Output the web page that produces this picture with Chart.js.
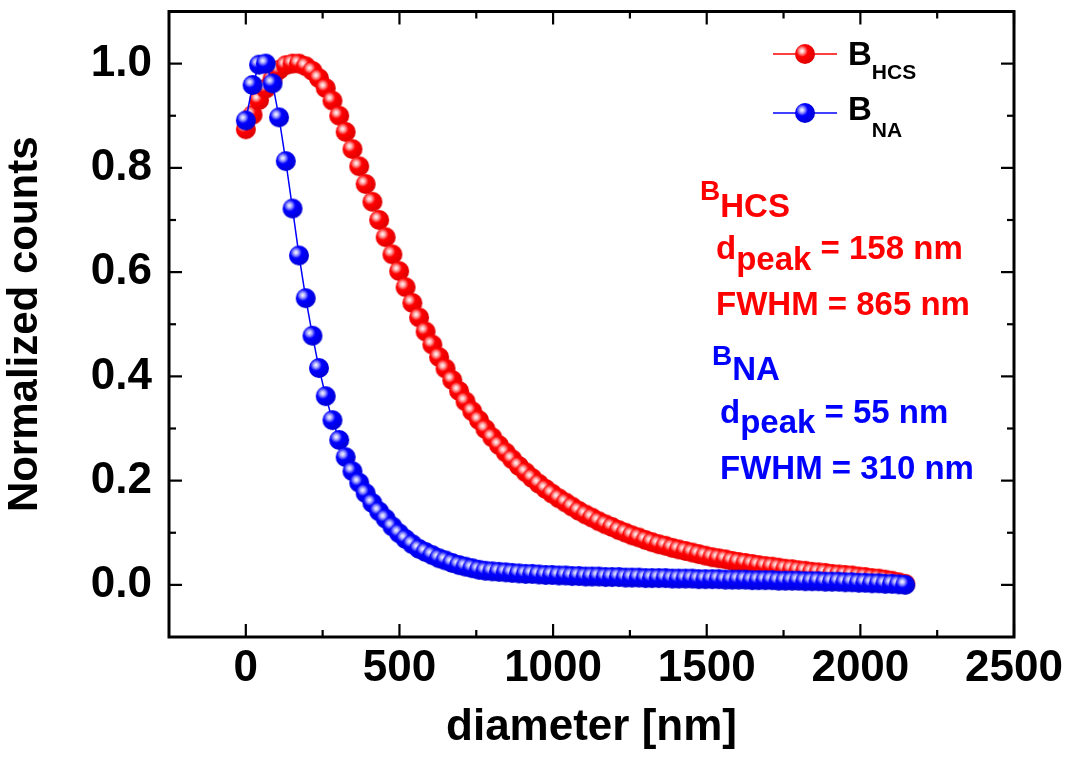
<!DOCTYPE html>
<html><head><meta charset="utf-8">
<script src="https://cdn.jsdelivr.net/npm/chart.js@4.4.1/dist/chart.umd.min.js"></script>
<style>
html,body{margin:0;padding:0;background:#fff;}
#wrap{position:relative;width:1074px;height:760px;overflow:hidden;background:#fff;}
#c{position:absolute;left:0;top:0;}
.t{position:absolute;font-family:"Liberation Sans",Arial,sans-serif;font-weight:bold;line-height:1;white-space:nowrap;}
.red{color:#ff0000}.blue{color:#0000ff}.blk{color:#000}
.s{position:relative;}
</style></head><body>
<div id="wrap">
<canvas id="c" width="1074" height="760"></canvas>
<div class="t blk" style="left:848px;top:37px;font-size:33px;">B<span class="s" style="font-size:21px;top:14px;">HCS</span></div>
<div class="t blk" style="left:848px;top:92px;font-size:33px;">B<span class="s" style="font-size:21px;top:17px;">NA</span></div>
<div class="t red" style="left:700px;top:189px;font-size:33px;"><span class="s" style="font-size:28px;top:-17px;">B</span>HCS</div>
<div class="t red" style="left:716px;top:231px;font-size:33px;">d<span class="s" style="top:11px;">peak</span> = 158 nm</div>
<div class="t red" style="left:716px;top:287px;font-size:33px;">FWHM = 865 nm</div>
<div class="t blue" style="left:712px;top:352px;font-size:33px;"><span class="s" style="font-size:28px;top:-15px;">B</span>NA</div>
<div class="t blue" style="left:720px;top:395px;font-size:33px;">d<span class="s" style="top:10px;">peak</span> = 55 nm</div>
<div class="t blue" style="left:720px;top:451px;font-size:33px;">FWHM = 310 nm</div>
</div>
<script>
// ---- data ----
const diameters = [
  0,22,43,65,87,108,130,152,173,195,
  217,238,260,282,304,325,347,369,390,412,
  434,455,477,499,520,542,564,585,607,629,
  650,672,694,715,737,759,780,802,824,846,
  867,889,911,932,954,976,997,1019,1041,1062,
  1084,1106,1127,1149,1171,1192,1214,1236,1257,1279,
  1301,1322,1344,1366,1388,1409,1431,1453,1474,1496,
  1518,1539,1561,1583,1604,1626,1648,1669,1691,1713,
  1734,1756,1778,1799,1821,1843,1864,1886,1908,1930,
  1951,1973,1995,2016,2038,2060,2081,2103,2125,2146];
const bHCS = [
  0.874,0.902,0.930,0.952,0.971,0.988,0.997,1.000,1.000,0.995,
  0.986,0.972,0.953,0.929,0.900,0.869,0.836,0.803,0.769,0.735,
  0.700,0.667,0.634,0.602,0.571,0.541,0.513,0.486,0.461,0.437,
  0.415,0.393,0.372,0.352,0.333,0.316,0.299,0.283,0.268,0.254,
  0.241,0.228,0.216,0.205,0.194,0.184,0.175,0.166,0.158,0.150,
  0.142,0.135,0.129,0.122,0.116,0.111,0.105,0.100,0.095,0.091,
  0.086,0.082,0.078,0.075,0.071,0.068,0.065,0.062,0.059,0.056,
  0.053,0.051,0.049,0.046,0.044,0.042,0.040,0.038,0.036,0.035,
  0.033,0.031,0.030,0.028,0.027,0.025,0.024,0.023,0.021,0.020,
  0.019,0.018,0.016,0.015,0.013,0.012,0.010,0.008,0.005,0.002];
const bNA = [
  0.891,0.959,0.998,1.000,0.962,0.897,0.813,0.722,0.632,0.550,
  0.478,0.416,0.362,0.316,0.278,0.245,0.218,0.196,0.176,0.157,
  0.141,0.127,0.112,0.099,0.088,0.078,0.069,0.063,0.057,0.051,
  0.047,0.042,0.038,0.035,0.032,0.029,0.027,0.026,0.025,0.024,
  0.023,0.022,0.021,0.021,0.020,0.019,0.019,0.018,0.018,0.017,
  0.017,0.016,0.016,0.016,0.015,0.015,0.015,0.014,0.014,0.014,
  0.013,0.013,0.013,0.013,0.012,0.012,0.012,0.012,0.011,0.011,
  0.011,0.011,0.010,0.010,0.010,0.010,0.009,0.009,0.009,0.009,
  0.008,0.008,0.008,0.008,0.007,0.007,0.007,0.006,0.006,0.006,
  0.005,0.005,0.004,0.004,0.003,0.003,0.002,0.002,0.001,0.000];
const xTicks = [0,500,1000,1500,2000,2500];
const xMinorTicks = [250,750,1250,1750,2250];
const yTicks = [0.0,0.2,0.4,0.6,0.8,1.0];
const yMinorTicks = [0.1,0.3,0.5,0.7,0.9];

function sphere(color, light, dark){
  const c = document.createElement('canvas');
  c.width = 22; c.height = 22;
  const g = c.getContext('2d');
  const gr = g.createRadialGradient(8,8,0,8,8,13);
  gr.addColorStop(0,'#ffffff');
  gr.addColorStop(0.18,light);
  gr.addColorStop(0.45,color);
  gr.addColorStop(1,dark);
  g.fillStyle = gr;
  g.beginPath(); g.arc(11,11,10,0,Math.PI*2); g.fill();
  return c;
}
const redBall = sphere('#ff0000','#ffb0b0','#e00000');
const blueBall = sphere('#0000ff','#b0b0ff','#0000d8');

const FONT = '"Liberation Sans", Arial, sans-serif';

const framePlugin = {
  id:'frame',
  afterDraw(chart){
    const {ctx, chartArea:a, scales:{x,y}} = chart;
    ctx.save();
    ctx.strokeStyle = '#000';
    ctx.lineWidth = 2.2;
    const seg=(x0,y0,x1,y1)=>{ctx.beginPath();ctx.moveTo(x0,y0);ctx.lineTo(x1,y1);ctx.stroke();};
    xTicks.forEach(v=>{const p=x.getPixelForValue(v); seg(p,a.bottom,p,a.bottom-13); seg(p,a.top,p,a.top+13);});
    xMinorTicks.forEach(v=>{const p=x.getPixelForValue(v); seg(p,a.bottom,p,a.bottom-7); seg(p,a.top,p,a.top+7);});
    yTicks.forEach(v=>{const p=y.getPixelForValue(v); seg(a.left,p,a.left+13,p); seg(a.right,p,a.right-13,p);});
    yMinorTicks.forEach(v=>{const p=y.getPixelForValue(v); seg(a.left,p,a.left+7,p); seg(a.right,p,a.right-7,p);});
    ctx.lineWidth = 3;
    ctx.strokeRect(a.left, a.top, a.right-a.left, a.bottom-a.top);
    // legend symbols
    ctx.lineWidth = 1.5;
    ctx.strokeStyle = '#ff0000'; seg(773,54,837,54);
    ctx.drawImage(redBall, 805-11, 54-11);
    ctx.strokeStyle = '#0000ff'; seg(773,113,837,113);
    ctx.drawImage(blueBall, 805-11, 113-11);
    ctx.restore();
  }
};

new Chart(document.getElementById('c'), {
  type:'scatter',
  data:{
    datasets:[
      {label:'B_NA', data: diameters.map((d,i)=>({x:d,y:bNA[i]})), showLine:true,
       borderColor:'#0000ff', borderWidth:1.5, pointStyle:blueBall, pointRadius:10, backgroundColor:'#0000ff'},
      {label:'B_HCS', data: diameters.map((d,i)=>({x:d,y:bHCS[i]})), showLine:true,
       borderColor:'#ff0000', borderWidth:1.5, pointStyle:redBall, pointRadius:10, backgroundColor:'#ff0000'}
    ]
  },
  options:{
    responsive:false, animation:false, events:[], devicePixelRatio:1,
    layout:{padding:{top:11,right:60,left:0,bottom:0}},
    plugins:{legend:{display:false}, tooltip:{enabled:false}},
    scales:{
      x:{type:'linear', min:-250, max:2500,
        grid:{display:false, drawTicks:false}, border:{display:false},
        afterBuildTicks:s=>{s.ticks = xTicks.map(v=>({value:v}));},
        afterFit:s=>{s.height = 123; s.paddingLeft = 0; s.paddingRight = 0;},
        ticks:{padding:5, color:'#000', font:{family:FONT, size:44, weight:'bold'}, maxRotation:0, callback:v=>String(v)},
        title:{display:true, text:'diameter [nm]', color:'#000', font:{family:FONT, size:44, weight:'bold'}, padding:{top:0,bottom:6}}
      },
      y:{type:'linear', min:-0.1, max:1.1,
        grid:{display:false, drawTicks:false}, border:{display:false},
        afterBuildTicks:s=>{s.ticks = yTicks.map(v=>({value:v}));},
        afterFit:s=>{s.width = 169; s.paddingTop = 0; s.paddingBottom = 0;},
        ticks:{padding:17, color:'#000', font:{family:FONT, size:44, weight:'bold'}, callback:v=>Number(v).toFixed(1)},
        title:{display:true, text:'Normalized counts', color:'#000', font:{family:FONT, size:42, weight:'bold'}, padding:{top:0,bottom:0}}
      }
    }
  },
  plugins:[framePlugin]
});
</script>
</body></html>
